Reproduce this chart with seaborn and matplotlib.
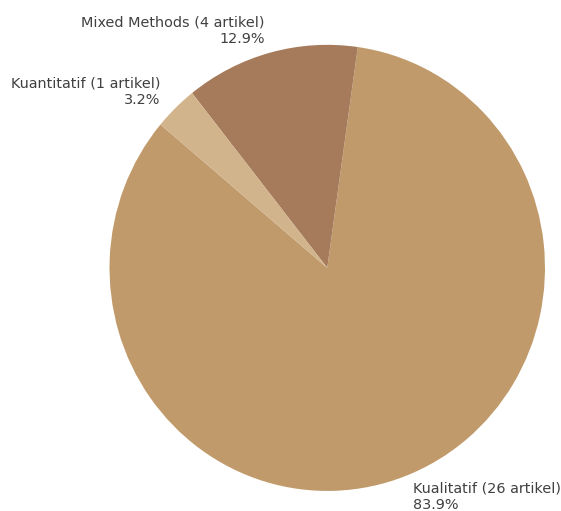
import matplotlib
matplotlib.use("Agg")
import matplotlib.pyplot as plt
import seaborn as sns

sns.set_style("white")

# Data
categories = ["Kualitatif", "Mixed Methods", "Kuantitatif"]
counts = [26, 4, 1]
colors = ["#C19A6B", "#A67B5B", "#D2B48C"]

total = sum(counts)
labels = [f"{c} ({n} artikel)\n{n / total * 100:.1f}%" for c, n in zip(categories, counts)]

fig = plt.figure(figsize=(5.61, 5.11), dpi=100)
ax = fig.add_axes([0, 0, 1, 1])
ax.pie(counts, labels=labels, colors=colors, startangle=140,
       wedgeprops={"linewidth": 0},
       textprops={"fontsize": 10.35, "color": "#404040"})
ax.set_aspect("auto")
ax.set_xlim(-1.503, 1.0735)
ax.set_ylim(-1.09, 1.201)
ax.axis("off")

plt.savefig("out.png", dpi=100)
